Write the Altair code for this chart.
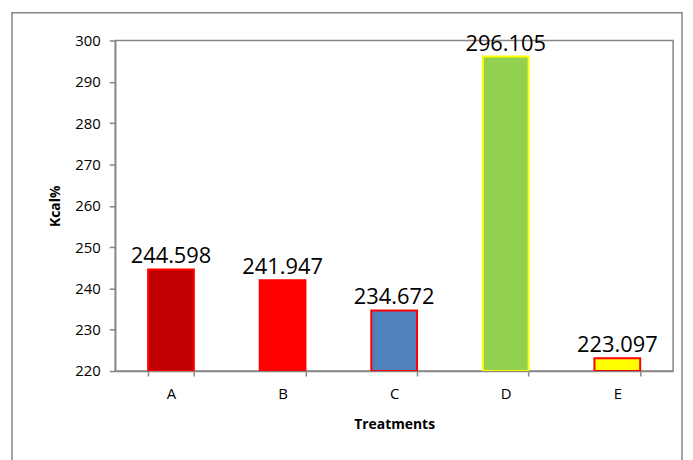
import altair as alt
import pandas as pd

treatments = ["A", "B", "C", "D", "E"]
kcal = [244.598, 241.947, 234.672, 296.105, 223.097]
labels = ["244.598", "241.947", "234.672", "296.105", "223.097"]
fill_colors = ["#C00000", "#FF0000", "#4F81BD", "#92D050", "#FFFF00"]
stroke_colors = ["#FF0000", "#FF0000", "#FF0000", "#FFFF00", "#FF0000"]
y_ticks = [220, 230, 240, 250, 260, 270, 280, 290, 300]

df = pd.DataFrame({"Treatments": treatments, "Kcal": kcal, "label": labels})

FONT = "Open Sans"
GRAY = "#868686"

x_enc = alt.X(
    "Treatments:N",
    sort=treatments,
    scale=alt.Scale(paddingInner=0.59, paddingOuter=0.295),
    axis=alt.Axis(
        title="Treatments",
        labelAngle=0,
        tickBand="extent",
        tickSize=5,
        labelPadding=11,
        titlePadding=16,
    ),
)
y_scale = alt.Scale(domain=[220, 300], nice=False, zero=False)

bars = alt.Chart(df).mark_bar(strokeWidth=2, clip=True).encode(
    x=x_enc,
    y=alt.Y(
        "Kcal:Q",
        scale=y_scale,
        axis=alt.Axis(
            title="Kcal%",
            values=y_ticks,
            grid=False,
            tickSize=6,
            labelPadding=9,
            titlePadding=12,
        ),
    ),
    y2=alt.datum(220),
    color=alt.Color("Treatments:N", sort=treatments,
                    scale=alt.Scale(domain=treatments, range=fill_colors), legend=None),
    stroke=alt.Stroke("Treatments:N", sort=treatments,
                      scale=alt.Scale(domain=treatments, range=stroke_colors), legend=None),
)

text = alt.Chart(df).mark_text(
    font=FONT, fontSize=22, baseline="alphabetic", dy=-6, color="#000000"
).encode(
    x=alt.X("Treatments:N", sort=treatments),
    y=alt.Y("Kcal:Q", scale=y_scale),
    text="label:N",
)

border = alt.Chart(pd.DataFrame({"k": [0]})).mark_rect(
    fill=None, stroke=GRAY, strokeWidth=1.5
).encode(
    x=alt.value(-104), x2=alt.value(571), y=alt.value(-28), y2=alt.value(425)
)

chart = alt.layer(border, bars, text).properties(
    width=562,
    height=333,
    autosize=alt.AutoSizeParams(type="none"),
    padding={"left": 108, "top": 31, "right": 12, "bottom": 100},
).configure_view(
    stroke=GRAY, strokeWidth=1.5
).configure_axis(
    labelFont=FONT,
    titleFont=FONT,
    labelFontSize=15,
    titleFontSize=14,
    titleFontWeight="bold",
    labelColor="#000000",
    titleColor="#000000",
    domainColor=GRAY,
    tickColor=GRAY,
    domainWidth=1.5,
    tickWidth=1.5,
)

chart.save("out.html", embed_options={"renderer": "svg", "actions": False})
